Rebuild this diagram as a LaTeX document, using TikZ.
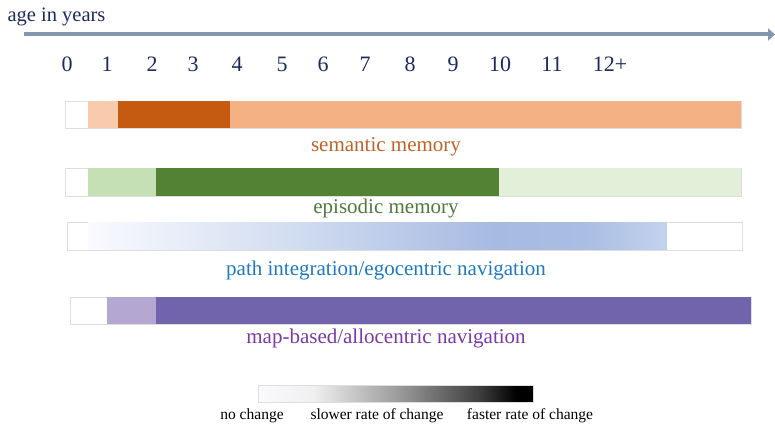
\documentclass[tikz,border=0pt]{standalone}
\usepackage{fontspec}
\setmainfont{Liberation Serif}
\usetikzlibrary{arrows.meta}

\definecolor{axisgrey}{RGB}{132,151,176}
\definecolor{navy}{RGB}{28,42,92}
\definecolor{framegrey}{RGB}{222,222,222}
\definecolor{semlight}{RGB}{248,203,173}
\definecolor{semdark}{RGB}{197,90,17}
\definecolor{semmid}{RGB}{244,177,131}
\definecolor{semtext}{RGB}{190,98,40}
\definecolor{epilight}{RGB}{197,224,180}
\definecolor{epidark}{RGB}{84,130,53}
\definecolor{epipale}{RGB}{226,240,217}
\definecolor{epitext}{RGB}{78,122,60}
\definecolor{pathtext}{RGB}{30,120,196}
\definecolor{maplight}{RGB}{180,168,210}
\definecolor{mapdark}{RGB}{114,100,172}
\definecolor{maptext}{RGB}{122,56,168}

\pgfdeclarehorizontalshading{pathshade}{100bp}{%
  color(0bp)=(white); color(25bp)=(white!98!blue);
  color(42bp)=(rgb,255:red,211;green,222;blue,241);
  color(60bp)=(rgb,255:red,167;green,186;blue,225);
  color(68bp)=(rgb,255:red,170;green,189;blue,227);
  color(75bp)=(rgb,255:red,195;green,211;blue,238);
  color(100bp)=(rgb,255:red,195;green,211;blue,238)}
\pgfdeclarehorizontalshading{keyshade}{100bp}{%
  color(0bp)=(white); color(25bp)=(white!98!blue);
  color(35bp)=(white!94!black);
  color(50bp)=(white!62!black);
  color(65bp)=(white!25!black);
  color(72bp)=(black); color(100bp)=(black)}

\begin{document}
\begin{tikzpicture}[x=1pt,y=-1pt]
    \tikzset{
        agelabel/.style={text=navy, font=\fontsize{22}{24}\selectfont, anchor=base},
        barlabel/.style={font=\fontsize{21}{24}\selectfont, anchor=base},
        keylabel/.style={font=\fontsize{15.5}{18}\selectfont, anchor=base},
        barframe/.style={draw=framegrey, fill=white, line width=0.8pt},
        axisline/.style={draw=axisgrey, line width=4pt, -{Triangle[length=7pt,width=12pt]}}
    }
    \useasboundingbox (0,0) rectangle (775,427);

    \draw node[anchor=base west, text=navy, font=\fontsize{20.5}{24}\selectfont] (agetitle) at (4,22) {age in years};
    \coordinate (axstart) at (24,34.5);
    \coordinate (axend) at (775,34.5);
    \draw[axisline] (axstart) -- (axend);
    \foreach \x/\a [count=\i] in {%
        67/0,107/1,152/2,193/3,237/4,282/5,323/6,365/7,410/8,453/9,500/10,552/11,610/12+%
    }{
        \draw node[agelabel] (age\i) at (\x,72) {\a};
    }

    \draw[barframe] (65,101) rectangle (741,128);
    \fill[semlight] (88,101) rectangle (118,128);
    \fill[semdark] (118,101) rectangle (230,128);
    \fill[semmid] (230,101) rectangle (741,128);
    \draw node[barlabel, text=semtext] (semantic) at (386,152) {semantic memory};

    \draw[barframe] (65,168) rectangle (741,196);
    \fill[epilight] (88,168) rectangle (156,196);
    \fill[epidark] (156,168) rectangle (499,196);
    \fill[epipale] (499,168) rectangle (741,196);
    \draw node[barlabel, text=epitext] (episodic) at (386,214) {episodic memory};

    \draw[barframe] (67,222) rectangle (742,250);
    \shade[shading=pathshade] (88,222.5) rectangle (667,249.5);
    \draw node[barlabel, text=pathtext] (pathint) at (386,276) {path integration/egocentric navigation};

    \draw[barframe] (70,297) rectangle (751,324);
    \fill[maplight] (107,297) rectangle (156,324);
    \fill[mapdark] (156,297) rectangle (751,324);
    \draw node[barlabel, text=maptext] (mapbased) at (386,343) {map-based/allocentric navigation};

    \shade[shading=keyshade, draw=framegrey, line width=0.5pt] (258,385) rectangle (533,402);
    \draw node[keylabel] (nochange) at (252,419) {no change};
    \draw node[keylabel] (slower) at (377,419) {slower rate of change};
    \draw node[keylabel] (faster) at (530,419) {faster rate of change};
\end{tikzpicture}
\end{document}
